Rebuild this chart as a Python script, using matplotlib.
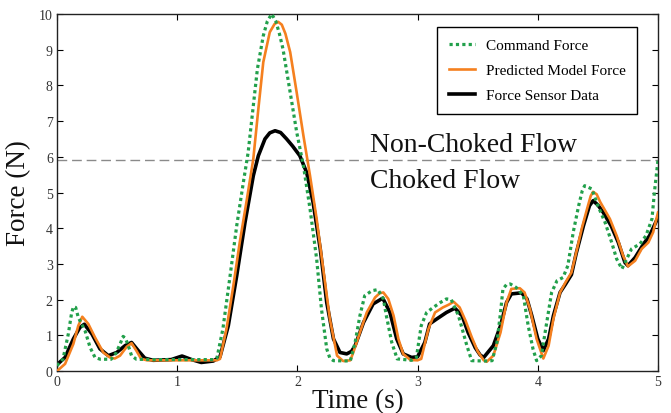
import matplotlib
matplotlib.use("Agg")
import matplotlib.pyplot as plt

# ---- data ----
t_cmd = [0, 0.05, 0.094, 0.12, 0.136, 0.155, 0.177, 0.233, 0.275, 0.316, 0.36, 0.45, 0.49, 0.524,
         0.55, 0.568, 0.588, 0.62, 0.66, 0.8, 1.0, 1.2, 1.3, 1.33, 1.38, 1.44, 1.495, 1.55, 1.59,
         1.63, 1.667, 1.716, 1.75, 1.786, 1.82, 1.85, 1.88, 1.94, 1.994, 2.05, 2.105, 2.16, 2.2,
         2.244, 2.27, 2.3, 2.44, 2.48, 2.52, 2.56, 2.62, 2.67, 2.715, 2.74, 2.785, 2.83, 2.95,
         2.99, 3.03, 3.075, 3.13, 3.19, 3.24, 3.28, 3.34, 3.41, 3.45, 3.56, 3.62, 3.66, 3.69,
         3.71, 3.74, 3.77, 3.82, 3.88, 3.92, 3.96, 3.99, 4.03, 4.07, 4.115, 4.16, 4.21, 4.25,
         4.295, 4.34, 4.37, 4.39, 4.45, 4.5, 4.56, 4.615, 4.656, 4.7, 4.74, 4.78, 4.85, 4.9,
         4.95, 4.97, 5.0]
f_cmd = [0.15, 0.34, 1.04, 1.6, 1.80, 1.78, 1.50, 1.13, 0.66, 0.38, 0.33, 0.33, 0.5, 0.75,
         0.97, 0.92, 0.76, 0.43, 0.33, 0.32, 0.32, 0.32, 0.32, 0.36, 1.18, 2.67, 4.07, 5.28, 6.12,
         7.34, 8.46, 9.39, 9.8, 10.0, 9.8, 9.45, 9.02, 7.8, 6.69, 5.75, 4.54, 3.14, 1.74,
         0.62, 0.36, 0.29, 0.28, 0.8, 1.55, 2.11, 2.25, 2.28, 2.02, 1.55, 0.8, 0.34, 0.30,
         0.38, 1.27, 1.64, 1.78, 1.92, 2.02, 2.0, 1.55, 0.71, 0.29, 0.28, 0.29, 0.8, 1.64,
         2.3, 2.42, 2.44, 2.34, 2.11, 1.27, 0.62, 0.29, 0.43, 1.27, 2.2, 2.53, 2.62, 2.95,
         3.89, 4.63, 5.05, 5.19, 5.1, 4.63, 4.16, 3.6, 3.14, 2.86, 3.14, 3.42, 3.56, 3.79,
         4.26, 5.0, 5.9]

t_model = [0, 0.067, 0.136, 0.177, 0.21, 0.26, 0.316, 0.385, 0.44, 0.48, 0.524, 0.58, 0.62, 0.66,
           0.70, 0.75, 1.0, 1.2, 1.33, 1.356, 1.41, 1.467, 1.52, 1.58, 1.633, 1.675, 1.716, 1.77,
           1.81, 1.84, 1.87, 1.9, 1.94, 1.994, 2.05, 2.105, 2.16, 2.215, 2.27, 2.33, 2.38, 2.44,
           2.465, 2.52, 2.577, 2.646, 2.685, 2.715, 2.756, 2.8, 2.84, 2.88, 2.94, 3.0, 3.03, 3.09,
           3.145, 3.21, 3.26, 3.3, 3.35, 3.4, 3.45, 3.5, 3.55, 3.575, 3.63, 3.69, 3.74, 3.78, 3.85,
           3.89, 3.935, 3.99, 4.046, 4.09, 4.13, 4.185, 4.23, 4.28, 4.32, 4.365, 4.41, 4.44, 4.46,
           4.49, 4.52, 4.6, 4.656, 4.71, 4.75, 4.81, 4.864, 4.92, 4.96, 5.0]
f_model = [0.0, 0.2, 0.76, 1.27, 1.52, 1.32, 0.94, 0.52, 0.38, 0.35, 0.43, 0.68, 0.78, 0.57,
           0.34, 0.3, 0.3, 0.3, 0.3, 0.34, 1.18, 2.39, 3.6, 4.82, 5.94, 7.34, 8.65, 9.49,
           9.72, 9.78, 9.7, 9.45, 8.93, 7.8, 6.59, 5.47, 4.26, 2.86, 1.46, 0.43, 0.28, 0.30,
           0.52, 1.08, 1.64, 2.06, 2.18, 2.2, 2.02, 1.55, 0.9, 0.48, 0.31, 0.30, 0.34, 1.18,
           1.64, 1.78, 1.86, 1.94, 1.78, 1.4, 0.95, 0.55, 0.3, 0.26, 0.43, 1.08, 1.92, 2.3,
           2.32, 2.2, 1.74, 0.9, 0.35, 0.71, 1.46, 2.2, 2.48, 2.76, 3.32, 3.98, 4.54, 4.9, 5.02,
           4.95, 4.73, 4.26, 3.79, 3.23, 2.93, 3.09, 3.42, 3.6, 3.89, 4.44]

t_sensor = [0, 0.067, 0.136, 0.19, 0.227, 0.29, 0.357, 0.427, 0.497, 0.566, 0.62, 0.676, 0.73, 0.8,
            0.95, 1.04, 1.12, 1.2, 1.3, 1.356, 1.425, 1.495, 1.564, 1.633, 1.675, 1.73, 1.77,
            1.814, 1.86, 1.91, 1.96, 2.02, 2.077, 2.13, 2.19, 2.244, 2.3, 2.354, 2.41, 2.45, 2.48,
            2.55, 2.63, 2.71, 2.77, 2.826, 2.88, 2.95, 3.0, 3.06, 3.1, 3.16, 3.24, 3.31, 3.37,
            3.42, 3.48, 3.52, 3.55, 3.63, 3.69, 3.74, 3.78, 3.865, 3.91, 3.95, 4.0, 4.046, 4.09,
            4.13, 4.185, 4.23, 4.28, 4.32, 4.38, 4.43, 4.46, 4.5, 4.545, 4.61, 4.67, 4.725, 4.75,
            4.81, 4.88, 4.93, 5.0]
f_sensor = [0.18, 0.38, 0.9, 1.22, 1.31, 1.04, 0.62, 0.43, 0.52, 0.71, 0.80, 0.57, 0.36, 0.3,
            0.32, 0.42, 0.32, 0.24, 0.28, 0.4, 1.27, 2.67, 4.16, 5.47, 6.03, 6.5, 6.67,
            6.73, 6.68, 6.5, 6.3, 6.03, 5.56, 4.73, 3.42, 1.92, 0.9, 0.52, 0.48, 0.55, 0.71,
            1.36, 1.88, 2.04, 1.64, 0.9, 0.48, 0.38, 0.4, 0.8, 1.32, 1.46, 1.64, 1.76, 1.55,
            1.08, 0.65, 0.45, 0.38, 0.71, 1.27, 1.92, 2.16, 2.19, 2.02, 1.55, 0.9, 0.57, 0.9,
            1.55, 2.2, 2.43, 2.7, 3.3, 4.07, 4.63, 4.77, 4.65, 4.44, 4.07, 3.6, 3.04, 2.95,
            3.18, 3.56, 3.79, 4.3]

choke_threshold = 5.92
x_ticks = [0, 1, 2, 3, 4, 5]
y_ticks = [0, 1, 2, 3, 4, 5, 6, 7, 8, 9, 10]

plt.rcParams['font.family'] = ['Liberation Serif', 'DejaVu Serif']

fig = plt.figure(figsize=(6.71, 4.14), dpi=100)
ax = fig.add_axes([0.085, 0.1014, 0.8956, 0.8624])

GREEN = '#22a04b'
ORANGE = '#f5801f'

ax.axhline(choke_threshold, color='#8a8a8a', lw=1.0, ls=(0, (7, 3.5)), zorder=1)
l3, = ax.plot(t_sensor, f_sensor, color='black', lw=2.6, zorder=2, label='Force Sensor Data',
              solid_joinstyle='round')
l2, = ax.plot(t_model, f_model, color=ORANGE, lw=1.9, zorder=3, label='Predicted Model Force',
              solid_joinstyle='round')
l1, = ax.plot(t_cmd, f_cmd, color=GREEN, lw=2.3, ls=(0, (1, 1)), zorder=4, label='Command Force')

ax.text(2.604, 6.16, 'Non-Choked Flow', fontsize=20, va='baseline', ha='left', color='#111111')
ax.text(2.604, 5.15, 'Choked Flow', fontsize=20, va='baseline', ha='left', color='#111111')

ax.set_xlim(0, 5)
ax.set_ylim(0, 10)
ax.set_xticks(x_ticks)
ax.set_yticks(y_ticks)
ax.tick_params(direction='in', top=True, right=True, length=4, width=0.8,
               labelsize=10, labelcolor='#333333', pad=3)
for s in ax.spines.values():
    s.set_linewidth(1.0)
    s.set_color('#222222')

ax.set_xlabel('Time (s)', fontsize=19.5, labelpad=0, color='#111111')
ax.set_ylabel('Force (N)', fontsize=19.5, labelpad=6, color='#111111')

leg = ax.legend(handles=[l1, l2, l3], loc='upper right', bbox_to_anchor=(0.965, 0.964),
                borderaxespad=0, fontsize=11, fancybox=False, framealpha=1,
                edgecolor='black', handlelength=1.7, handletextpad=0.7,
                labelspacing=0.75, borderpad=0.75)
leg.get_frame().set_linewidth(1.0)

fig.savefig('out.png', dpi=100)
